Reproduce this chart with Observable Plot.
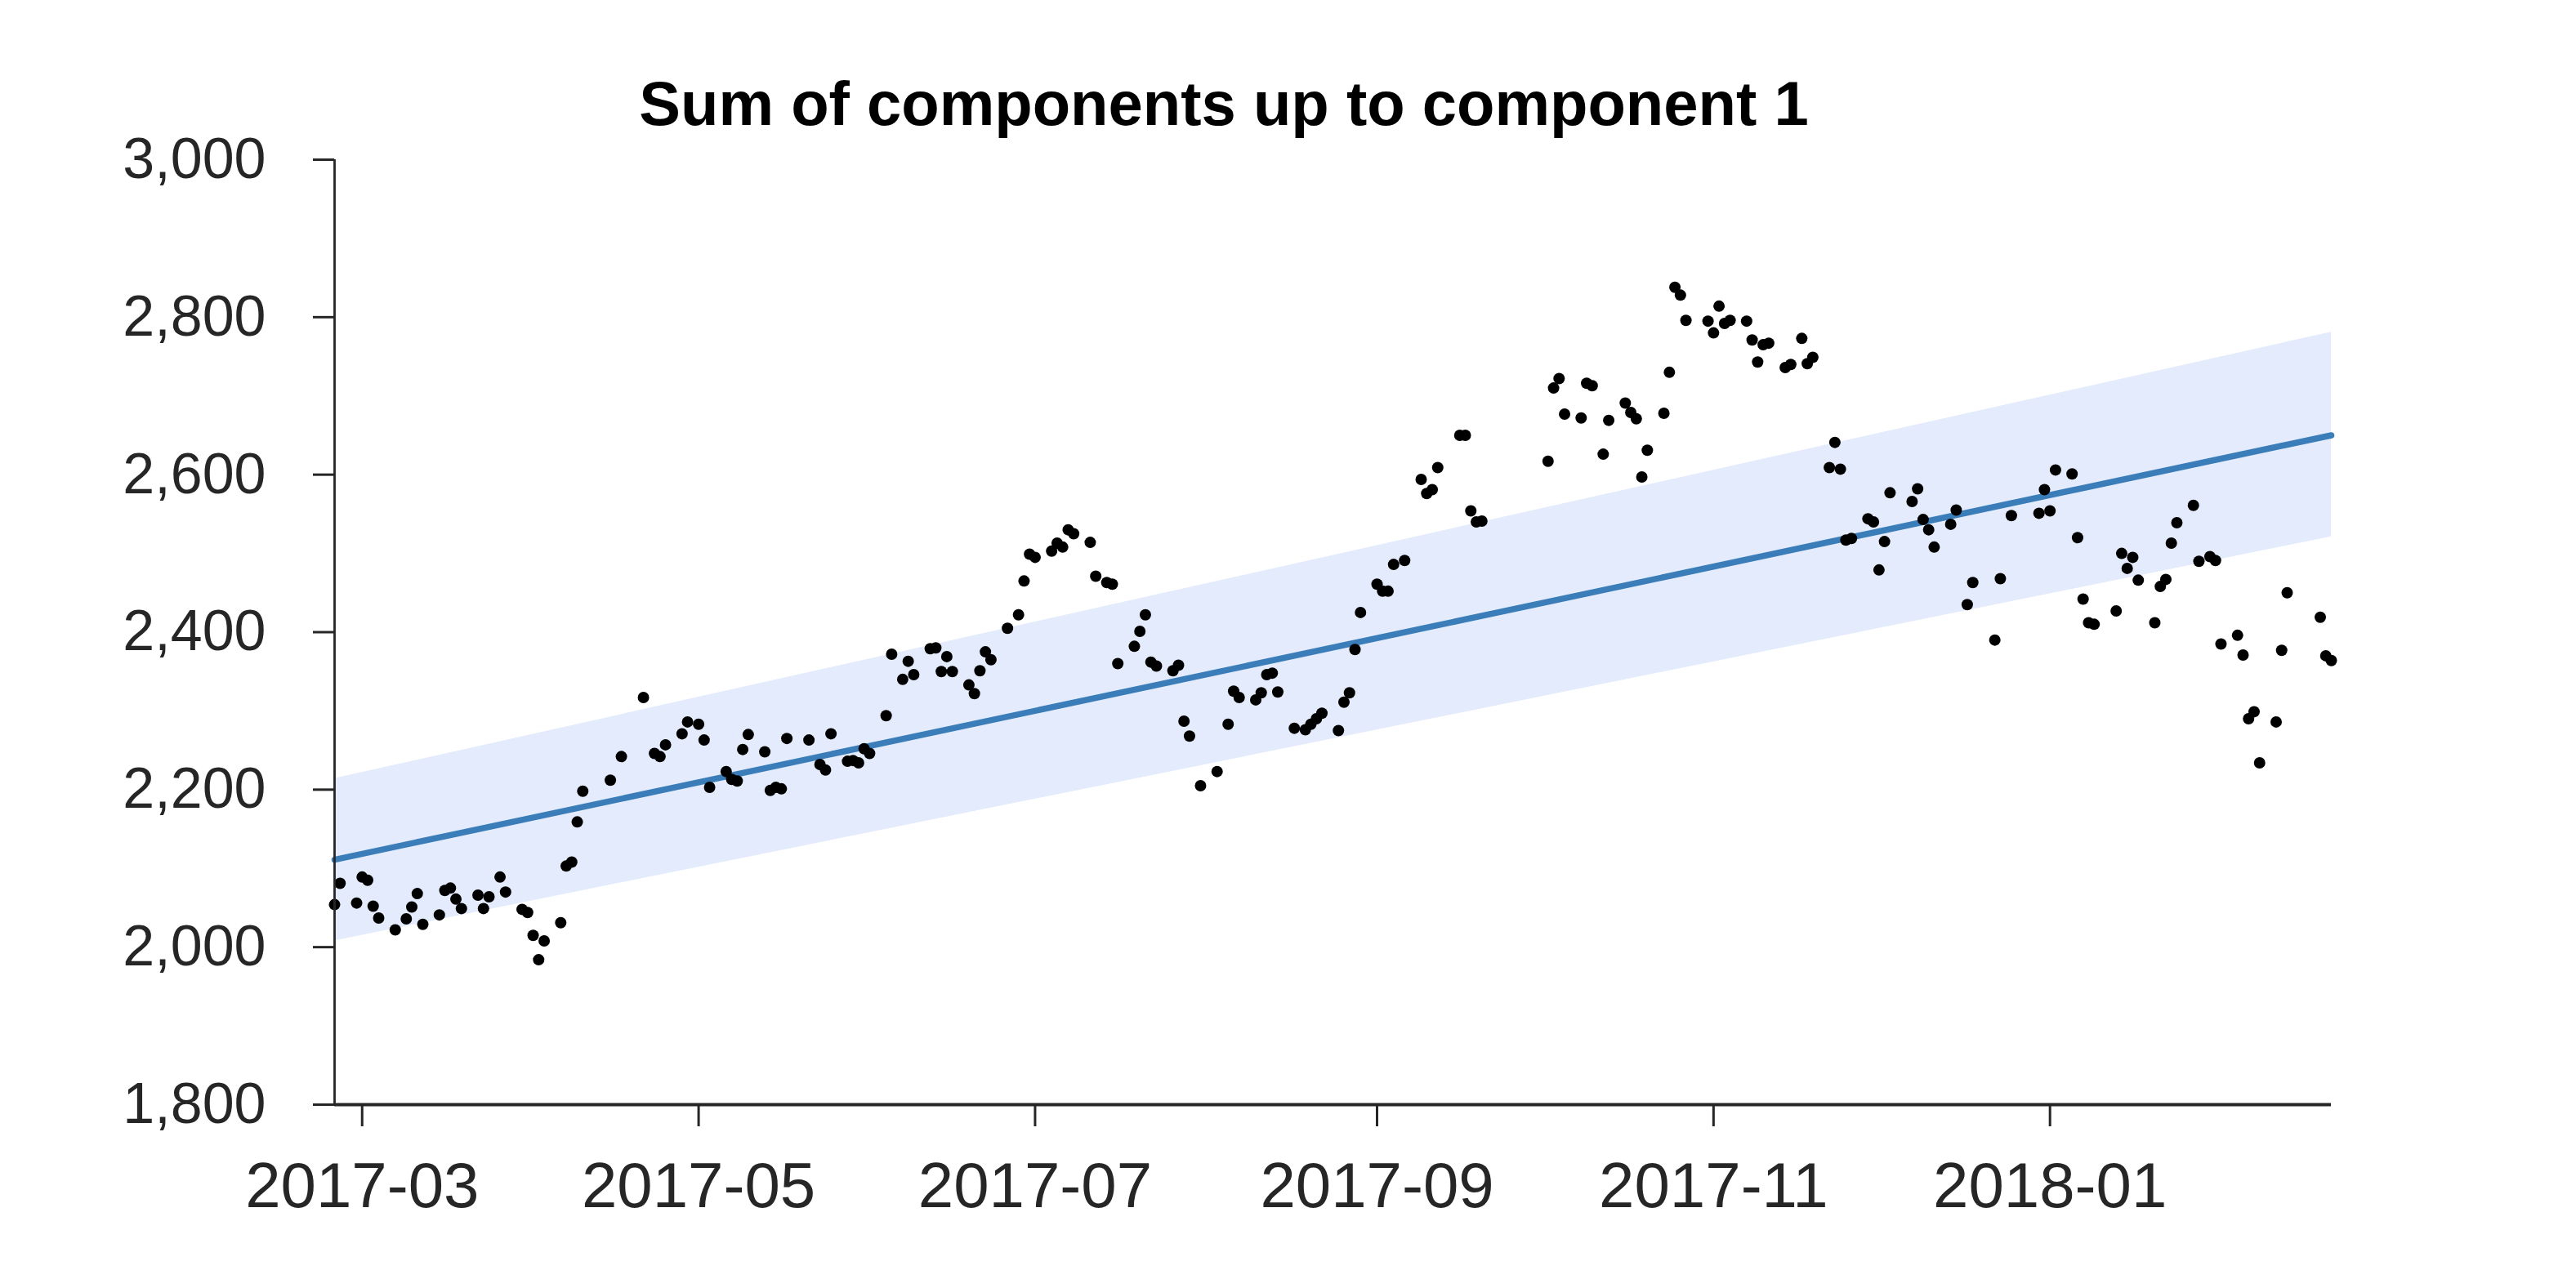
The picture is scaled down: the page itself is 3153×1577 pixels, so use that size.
<!DOCTYPE html>
<html><head><meta charset="utf-8">
<script src="https://cdn.jsdelivr.net/npm/d3@7"></script>
<script src="https://cdn.jsdelivr.net/npm/@observablehq/plot@0.6"></script>
<style>
html,body{margin:0;padding:0;background:#fff;}
body{width:3153px;height:1577px;overflow:hidden;font-family:"Liberation Sans",Arial,Helvetica,sans-serif;}
#title{box-sizing:border-box;height:170px;padding-top:89px;width:2996px;text-align:center;font-size:76px;line-height:76px;font-weight:bold;color:#000;white-space:nowrap;}
#chart svg{display:block;}
</style></head><body>
<div id="title">Sum of components up to component 1</div>
<div id="chart"></div>
<script>
// Observation days, as offsets from 2017-03-01
const startDate = "2017-03-01";
const dayOffsets = [
 -5,-4,-1,0,1,2,3,6,8,9,10,11,14,15,16,17,18,21,22,23,25,26,29,30,31,32,33,36,37,38,39,40,45,47,51,53,54,55,
 58,59,61,62,63,66,67,68,69,70,73,74,75,76,77,81,83,84,85,88,89,90,91,92,95,96,98,99,100,103,104,105,106,107,
 110,111,112,113,114,117,119,120,121,122,125,126,127,128,129,132,133,135,136,137,140,141,142,143,144,147,148,149,150,152,
 155,157,158,159,162,163,164,165,166,169,171,172,173,174,177,178,179,180,181,184,185,186,187,189,192,193,194,195,
 199,200,201,202,203,215,216,217,218,221,222,223,225,226,229,230,231,232,233,236,237,238,239,240,
 244,245,246,247,248,251,252,253,254,255,258,259,261,262,263,266,267,268,269,270,273,274,275,276,277,
 281,282,283,284,285,288,289,291,292,296,297,299,304,305,306,307,310,311,312,313,314,318,319,320,321,322,
 325,326,327,328,329,332,333,335,336,337,340,341,342,343,344,347,348,349,355,356,357
];
const values = [
 2054,2081,2056,2089,2085,2052,2037,2022,2036,2051,2068,2029,2041,2072,2075,2061,2049,2066,2049,2064,2089,2070,2048,2044,2015,1984,2008,2031,2103,2108,2159,2198,2212,2242,2317,2246,2242,2257,
 2271,2286,2283,2263,2203,2223,2213,2211,2251,2270,2248,2199,2203,2201,2265,2263,2232,2225,2271,2236,2237,2234,2252,2246,2294,2372,2340,2363,2346,2379,2380,2350,2369,2350,
 2333,2322,2351,2375,2365,2405,2422,2465,2499,2495,2503,2513,2508,2530,2525,2514,2471,2463,2461,2360,2382,2401,2422,2362,2357,2351,2358,2287,2268,2205,
 2223,2283,2325,2317,2314,2323,2346,2348,2324,2278,2276,2283,2290,2297,2275,2311,2323,2378,2425,2461,2452,2452,2486,2491,2594,2576,2581,2609,
 2650,2650,2554,2540,2541,2617,2710,2722,2677,2672,2716,2713,2626,2669,2691,2679,2671,2597,2631,2678,2730,2838,2828,2796,
 2795,2780,2814,2792,2796,2795,2771,2743,2765,2767,2736,2740,2773,2741,2749,2609,2641,2607,2517,2519,2544,2540,2479,2515,2577,
 2566,2582,2543,2530,2508,2537,2555,2435,2463,2390,2468,2548,2551,2581,2554,2606,2601,2520,2442,2412,2410,2427,2500,2481,2495,2466,
 2412,2458,2467,2513,2539,2561,2490,2496,2491,2385,2396,2371,2290,2299,2234,2286,2377,2450,2419,2370,2364
];
// Fitted trend (component 1) and its interval, at the two ends of the series
const trendDates = ["2017-02-24", "2018-02-21"];
const trendMean = [2111, 2650];
const trendLower = [2008, 2521];
const trendUpper = [2214, 2781];
// Axis ticks
const yTicks = [1800, 2000, 2200, 2400, 2600, 2800, 3000];
const xTicks = ["2017-03-01", "2017-05-01", "2017-07-01", "2017-09-01", "2017-11-01", "2018-01-01"];
const xTickLabels = ["2017-03", "2017-05", "2017-07", "2017-09", "2017-11", "2018-01"];

const base = new Date(startDate);
const points = dayOffsets.map((o, i) => ({date: d3.utcDay.offset(base, o), value: values[i]}));
const trend = trendDates.map((d, i) => ({date: new Date(d), mean: trendMean[i], lower: trendLower[i], upper: trendUpper[i]}));
const xTickDates = xTicks.map(d => new Date(d));
const labelByTime = new Map(xTickDates.map((d, i) => [+d, xTickLabels[i]]));
const x0 = trend[0].date, x1 = trend[trend.length - 1].date;
const axisColor = "#262626";

const chart = Plot.plot({
  width: 3153,
  height: 1407,
  marginTop: 25,
  marginBottom: 225,
  marginLeft: 409,
  marginRight: 300,
  style: {fontFamily: "'Liberation Sans', Arial, Helvetica, sans-serif", background: "#fff", overflow: "visible"},
  x: {type: "utc", domain: [x0, x1]},
  y: {domain: [yTicks[0], yTicks[yTicks.length - 1]]},
  marks: [
    Plot.areaY(trend, {x: "date", y1: "lower", y2: "upper", fill: "#e3ebfc", curve: "linear"}),
    Plot.lineY(trend, {x: "date", y: "mean", stroke: "#3a7db8", strokeWidth: 7.5, curve: "linear"}),
    Plot.dot(points, {x: "date", y: "value", r: 7, fill: "#000", stroke: "none"}),
    Plot.ruleX([x0], {y1: yTicks[0], y2: yTicks[yTicks.length - 1], stroke: axisColor, strokeWidth: 2.8}),
    Plot.ruleY([yTicks[0]], {x1: x0, x2: x1, stroke: axisColor, strokeWidth: 4}),
    Plot.axisY(yTicks, {tickSize: 26, tickPadding: 58, fontSize: 70, tickFormat: d3.format(","), stroke: axisColor, fill: axisColor, strokeWidth: 3}),
    Plot.axisX(xTickDates, {tickSize: 27, tickPadding: 43, fontSize: 78, tickFormat: d => labelByTime.get(+d), stroke: axisColor, fill: axisColor, strokeWidth: 3})
  ]
});
document.getElementById("chart").appendChild(chart);
</script>
</body></html>
